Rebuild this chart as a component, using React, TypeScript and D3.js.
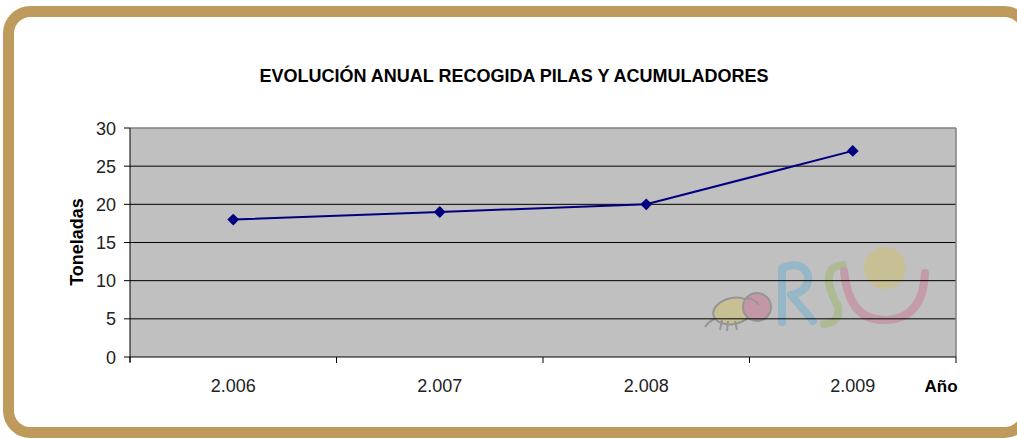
import React from "react";
import * as d3 from "d3";

const categories = ["2.006", "2.007", "2.008", "2.009"];
const values = [18, 19, 20, 27];
const yTicks = [0, 5, 10, 15, 20, 25, 30];

const W = 1017;
const H = 439;
const plot = { left: 130, right: 956, top: 128, bottom: 357 };
const FONT = "'Liberation Sans', Arial, sans-serif";

export default function App() {
  const x = d3.scaleBand<string>().domain(categories).range([plot.left, plot.right]);
  const y = d3.scaleLinear().domain([0, 30]).range([plot.bottom, plot.top]);
  const line = d3
    .line<number>()
    .x((_, i) => (x(categories[i]) as number) + x.bandwidth() / 2)
    .y((d) => y(d));
  const diamond = d3.symbol().type(d3.symbolDiamond2).size(90);
  const xEdges = [...categories.map((c) => x(c) as number), plot.right];

  return (
    <svg width={W} height={H} style={{ position: "absolute", left: 0, top: 0 }}>
      <rect x={0} y={0} width={W} height={H} fill="#ffffff" />
      {/* frame */}
      <rect x={8.5} y={11.5} width={1018} height={421} rx={22} ry={22} fill="#ffffff" stroke="#BE9A5C" strokeWidth={11} />
      {/* title */}
      <text x={514} y={82} textAnchor="middle" fontFamily={FONT} fontWeight="bold" fontSize={18} fill="#000">
        EVOLUCIÓN ANUAL RECOGIDA PILAS Y ACUMULADORES
      </text>
      {/* plot area */}
      <rect x={plot.left} y={plot.top} width={plot.right - plot.left} height={plot.bottom - plot.top} fill="#C0C0C0" />
      {/* watermark logo */}
      <g opacity={0.85}>
        <ellipse cx={733} cy={311} rx={20} ry={13} transform="rotate(-12 733 311)" fill="#C9C08E" stroke="#8E8E8E" strokeWidth={2} />
        <path d="M716 318 Q708 322 705 327 M722 320 L720 330 M728 321 L727 331 M735 321 L737 330" fill="none" stroke="#8E8E8E" strokeWidth={2} />
        <circle cx={757} cy={307} r={14} fill="#C590A2" stroke="#8E8E8E" strokeWidth={2} />
        <path d="M745 299 Q753 297 759 305" fill="none" stroke="#8E8E8E" strokeWidth={1.5} />
        <path d="M782 322 L782 268 Q802 260 808 275 Q810 291 791 295 L813 321" fill="none" stroke="#8FB6C9" strokeWidth={8} strokeLinecap="round" strokeLinejoin="round" />
        <path d="M843 265 Q827 266 829 283 Q832 297 838 306 Q841 322 824 324" fill="none" stroke="#AABB8E" strokeWidth={8} strokeLinecap="round" />
        <circle cx={885} cy={268} r={21} fill="#C9C08E" />
        <path d="M844 271 Q849 322 887 320 Q923 318 925 273" fill="none" stroke="#C590A2" strokeWidth={8} strokeLinecap="round" opacity={0.9} />
      </g>
      {/* gridlines */}
      {yTicks.filter((t) => t > 0 && t < 30).map((t) => (
        <line key={t} x1={plot.left} x2={plot.right} y1={y(t)} y2={y(t)} stroke="#000" strokeWidth={1} />
      ))}
      <line x1={plot.left} x2={plot.right} y1={plot.top} y2={plot.top} stroke="#808080" strokeWidth={1.5} />
      <line x1={plot.right} x2={plot.right} y1={plot.top} y2={plot.bottom} stroke="#808080" strokeWidth={1.5} />
      {/* axes */}
      <line x1={plot.left} x2={plot.left} y1={plot.top} y2={plot.bottom + 5} stroke="#000" strokeWidth={1} />
      <line x1={plot.left} x2={plot.right} y1={plot.bottom} y2={plot.bottom} stroke="#000" strokeWidth={1} />
      {yTicks.map((t) => (
        <g key={t}>
          <line x1={plot.left - 6} x2={plot.left} y1={y(t)} y2={y(t)} stroke="#000" />
          <text x={plot.left - 14} y={y(t) + 6.5} textAnchor="end" fontFamily={FONT} fontSize={18} fill="#222">
            {t}
          </text>
        </g>
      ))}
      {xEdges.map((e, i) => (
        <line key={i} x1={e} x2={e} y1={plot.bottom} y2={plot.bottom + 6} stroke="#000" />
      ))}
      {categories.map((c) => (
        <text key={c} x={(x(c) as number) + x.bandwidth() / 2} y={392} textAnchor="middle" fontFamily={FONT} fontSize={18} fill="#222">
          {c}
        </text>
      ))}
      <text x={941} y={392} textAnchor="middle" fontFamily={FONT} fontWeight="bold" fontSize={17} fill="#000">
        Año
      </text>
      <text transform={`translate(83 ${242}) rotate(-90)`} textAnchor="middle" fontFamily={FONT} fontWeight="bold" fontSize={18} fill="#000">
        Toneladas
      </text>
      {/* series */}
      <path d={line(values) as string} fill="none" stroke="#000080" strokeWidth={2} />
      {values.map((v, i) => (
        <path
          key={i}
          d={diamond() as string}
          transform={`translate(${(x(categories[i]) as number) + x.bandwidth() / 2} ${y(v)})`}
          fill="#000080"
        />
      ))}
    </svg>
  );
}
